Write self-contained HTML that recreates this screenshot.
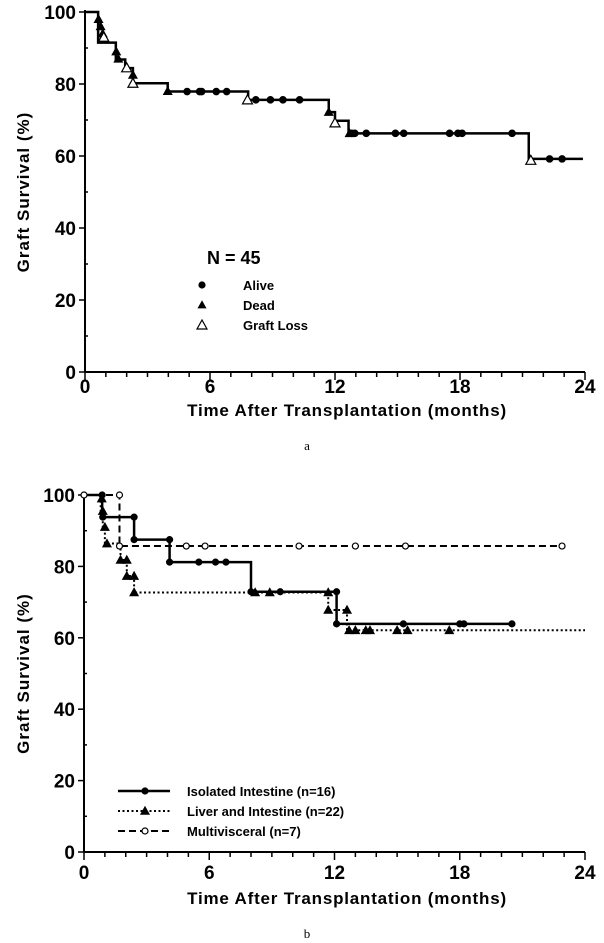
<!DOCTYPE html>
<html><head><meta charset="utf-8"><style>
html,body{margin:0;padding:0;background:#fff;}
svg{display:block;font-family:"Liberation Sans",Arial,sans-serif;}
</style></head><body>
<svg id="s" width="604" height="943" viewBox="0 0 604 943"></svg>
<script>
// ---- Chart a data ----
const aStepT = [0, 0.63, 1.48, 1.93, 2.3, 3.97, 7.83, 11.7, 12.0, 12.65, 21.3, 23.9];
const aStepV = [100, 91.5, 86.8, 84.4, 80.2, 77.9, 75.6, 72.2, 69.8, 66.3, 59.2, 59.2];
const aAliveT = [4.9, 5.5, 5.6, 6.3, 6.8, 8.2, 8.9, 9.5, 10.3, 12.8, 12.95, 13.5, 14.9, 15.3, 17.5, 17.9, 18.1, 20.5, 22.3, 22.9];
const aAliveV = [77.9, 77.9, 77.9, 77.9, 77.9, 75.6, 75.6, 75.6, 75.6, 66.3, 66.3, 66.3, 66.3, 66.3, 66.3, 66.3, 66.3, 66.3, 59.2, 59.2];
const aDeadT = [0.65, 0.75, 0.85, 1.5, 1.6, 2.3, 3.97, 11.7, 12.7];
const aDeadV = [98, 96, 94, 89, 87, 82.5, 78, 72.2, 66.3];
const aLossT = [0.9, 2.0, 2.3, 7.8, 12.0, 21.4];
const aLossV = [93, 84.5, 80.2, 75.6, 69.2, 58.8];
// ---- Chart b data ----
const bIsoT = [0, 0.87, 2.4, 4.1, 8.0, 12.1, 20.5];
const bIsoV = [100, 93.8, 87.5, 81.2, 72.9, 63.9, 63.9];
const bIsoMT = [0.87, 0.9, 2.4, 2.4, 4.1, 4.1, 5.5, 6.3, 6.8, 8.0, 9.4, 12.1, 12.1, 15.3, 18.0, 18.2, 20.5];
const bIsoMV = [100, 93.8, 93.8, 87.5, 87.5, 81.2, 81.2, 81.2, 81.2, 72.9, 72.9, 72.9, 63.9, 63.9, 63.9, 63.9, 63.9];
const bLivT = [0, 0.8, 0.9, 1.0, 1.75, 2.05, 2.4, 11.7, 12.6, 24];
const bLivV = [100, 95.5, 91, 86.4, 81.8, 77.3, 72.7, 67.8, 62.1, 62.1];
const bLivMT = [0.85, 0.9, 1.0, 1.1, 1.75, 2.05, 2.05, 2.4, 2.4, 8.2, 8.9, 11.7, 11.7, 12.6, 12.7, 13.0, 13.5, 13.7, 15.0, 15.5, 17.5];
const bLivMV = [99, 95.5, 91, 86.4, 81.8, 81.8, 77.3, 77.3, 72.7, 72.7, 72.7, 72.7, 67.8, 67.8, 62.1, 62.1, 62.1, 62.1, 62.1, 62.1, 62.1];
const bMulT = [0, 1.7, 22.9];
const bMulV = [100, 85.7, 85.7];
const bMulMT = [0, 1.7, 1.7, 4.9, 5.8, 10.3, 13.0, 15.4, 22.9];
const bMulMV = [100, 100, 85.7, 85.7, 85.7, 85.7, 85.7, 85.7, 85.7];
const yTicks = [0, 20, 40, 60, 80, 100];
const xTicks = [0, 6, 12, 18, 24];

const NS = "http://www.w3.org/2000/svg";
const svg = document.getElementById('s');
function el(tag, attrs, parent, txt) {
  const e = document.createElementNS(NS, tag);
  for (const k in attrs) e.setAttribute(k, attrs[k]);
  if (txt !== undefined) e.textContent = txt;
  (parent || svg).appendChild(e);
  return e;
}
function axes(g, x, y, y0px, x0px, x1px, letter, offs) {
  el('line', {x1: x0px, y1: y(100) - 2, x2: x0px, y2: y0px, stroke: '#000', 'stroke-width': 2}, g);
  el('line', {x1: x0px, y1: y0px, x2: x1px, y2: y0px, stroke: '#000', 'stroke-width': 2}, g);
  for (let v = 0; v <= 100; v += 10) {
    const major = v % 20 === 0;
    el('line', {x1: x0px - (major ? 6 : 0), y1: y(v), x2: x0px + (major ? 0 : 3), y2: y(v), stroke: '#000', 'stroke-width': 1.5}, g);
  }
  yTicks.forEach(v => {
    const t = el('text', {x: x0px - 9, y: y(v) + 7, 'text-anchor': 'end', 'font-size': 19, 'font-weight': 'bold'}, g, String(v));
    
    
  });
  for (let m = 0; m <= 24; m++) {
    const major = m % 6 === 0;
    el('line', {x1: x(m), y1: y0px, x2: x(m), y2: y0px + (major ? 8 : 5), stroke: '#000', 'stroke-width': 1.5}, g);
  }
  xTicks.forEach(v => {
    const t = el('text', {x: x(v), y: y0px + offs[0], 'text-anchor': 'middle', 'font-size': 19, 'font-weight': 'bold'}, g, String(v));
    
    
  });
  const yt = el('text', {x: 0, y: 0, transform: `translate(29,${(y(100) + y0px) / 2}) rotate(-90)`, 'text-anchor': 'middle', 'font-size': 17, 'font-weight': 'bold', 'letter-spacing': '1'}, g, 'Graft  Survival  (%)');
  
  
  const xt = el('text', {x: 347, y: y0px + offs[1], 'text-anchor': 'middle', 'font-size': 17, 'font-weight': 'bold', 'letter-spacing': '0.8'}, g, 'Time  After  Transplantation  (months)');
  
  
  const lt = el('text', {x: 307, y: y0px + offs[2], 'text-anchor': 'middle', 'font-size': 13, 'font-family': '"Liberation Serif",serif'}, g, letter);
  
  
}
function stepPath(T, V, x, y) {
  let d = `M${x(T[0])},${y(V[0])}`;
  for (let i = 1; i < T.length; i++) d += ` H${x(T[i])} V${y(V[i])}`;
  return d;
}
function circle(g, cx, cy, fill, r) { return el('circle', {cx, cy, r: r || 3.5, fill, stroke: '#000', 'stroke-width': 1.2}, g); }
function tri(g, cx, cy, fill, s) {
  s = s || 5;
  return el('polygon', {points: `${cx},${cy - s} ${cx - s},${cy + s * 0.8} ${cx + s},${cy + s * 0.8}`, fill, stroke: '#000', 'stroke-width': 1.2}, g);
}

// ---- Chart a ----
(function () {
  const X0 = 85, X1 = 585, Y0 = 372, Y100 = 12;
  const x = t => X0 + t / 24 * (X1 - X0);
  const y = v => Y0 - v / 100 * (Y0 - Y100);
  const g = el('g', {});
  
  
  axes(g, x, y, Y0, X0, X1, 'a', [21, 44, 78]);
  const p = el('path', {d: stepPath(aStepT, aStepV, x, y), fill: 'none', stroke: '#000', 'stroke-width': 2.5}, g);
  
  
  aAliveT.forEach((t, i) => {
    const c = circle(g, x(t), y(aAliveV[i]), '#000', 3.2);
    
    
  });
  aDeadT.forEach((t, i) => {
    const c = tri(g, x(t), y(aDeadV[i]), '#000', 4);
    
    
  });
  aLossT.forEach((t, i) => {
    const c = tri(g, x(t), y(aLossV[i]), '#fff', 5);
    
    
  });
  const lg = el('g', {}, g);
  
  
  el('text', {x: 207, y: 264, 'font-size': 18, 'font-weight': 'bold'}, lg, 'N = 45');
  circle(lg, 202, 285, '#000', 3);
  el('text', {x: 243, y: 290, 'font-size': 13, 'font-weight': 'bold'}, lg, 'Alive');
  tri(lg, 202, 305, '#000', 3.5);
  el('text', {x: 243, y: 310, 'font-size': 13, 'font-weight': 'bold'}, lg, 'Dead');
  tri(lg, 202, 325, '#fff', 5);
  el('text', {x: 243, y: 330, 'font-size': 13, 'font-weight': 'bold'}, lg, 'Graft Loss');
})();

// ---- Chart b ----
(function () {
  const X0 = 84, X1 = 585, Y0 = 852, Y100 = 495;
  const x = t => X0 + t / 24 * (X1 - X0);
  const y = v => Y0 - v / 100 * (Y0 - Y100);
  const g = el('g', {});
  
  
  axes(g, x, y, Y0, X0, X1, 'b', [27, 52, 86]);
  const pm = el('path', {d: stepPath(bMulT, bMulV, x, y), fill: 'none', stroke: '#000', 'stroke-width': 2, 'stroke-dasharray': '7,4'}, g);
  
  
  const pl = el('path', {d: stepPath(bLivT, bLivV, x, y), fill: 'none', stroke: '#000', 'stroke-width': 2, 'stroke-dasharray': '2,2.5'}, g);
  
  
  const pi = el('path', {d: stepPath(bIsoT, bIsoV, x, y), fill: 'none', stroke: '#000', 'stroke-width': 2.5}, g);
  
  
  bMulMT.forEach((t, i) => {
    const c = circle(g, x(t), y(bMulMV[i]), '#fff', 3);
    
    
  });
  bLivMT.forEach((t, i) => {
    const c = tri(g, x(t), y(bLivMV[i]), '#000', 4);
    
    
  });
  bIsoMT.forEach((t, i) => {
    const c = circle(g, x(t), y(bIsoMV[i]), '#000', 3);
    
    
  });
  const lg = el('g', {}, g);
  
  
  el('line', {x1: 118, y1: 791, x2: 170, y2: 791, stroke: '#000', 'stroke-width': 2.5}, lg);
  circle(lg, 145, 791, '#000', 3);
  el('text', {x: 187, y: 796, 'font-size': 13, 'font-weight': 'bold'}, lg, 'Isolated Intestine  (n=16)');
  el('line', {x1: 118, y1: 811, x2: 170, y2: 811, stroke: '#000', 'stroke-width': 2, 'stroke-dasharray': '2,2.5'}, lg);
  tri(lg, 145, 811, '#000', 4);
  el('text', {x: 187, y: 816, 'font-size': 13, 'font-weight': 'bold'}, lg, 'Liver and Intestine  (n=22)');
  el('line', {x1: 118, y1: 831, x2: 170, y2: 831, stroke: '#000', 'stroke-width': 2, 'stroke-dasharray': '7,4'}, lg);
  circle(lg, 145, 831, '#fff', 3);
  el('text', {x: 187, y: 836, 'font-size': 13, 'font-weight': 'bold'}, lg, 'Multivisceral  (n=7)');
})();
</script>
</body></html>
